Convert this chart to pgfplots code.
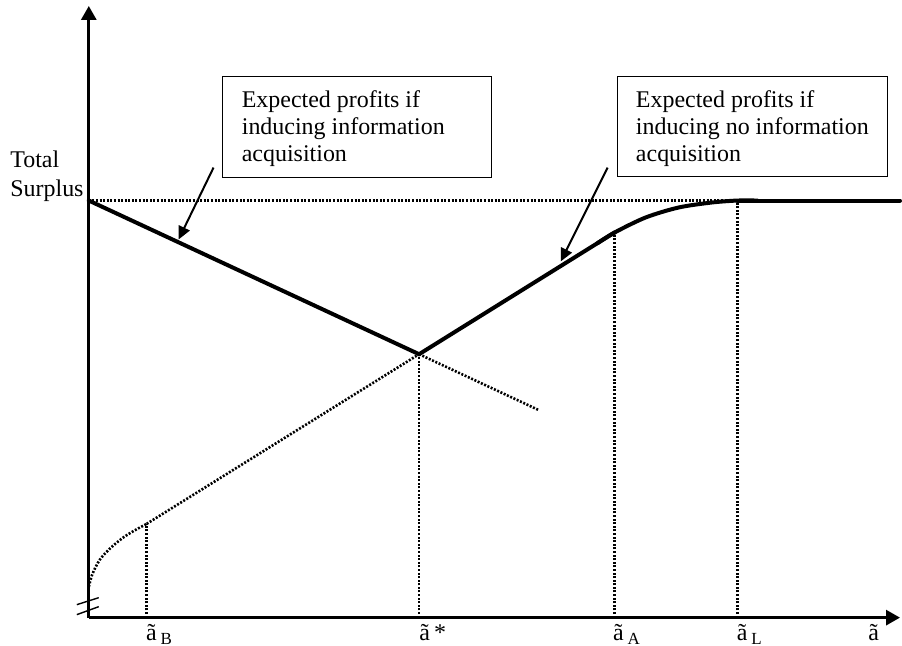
\documentclass[border=0pt]{standalone}
\usepackage{fontspec}
\setmainfont{Liberation Serif}
\usepackage{pgfplots}
\pgfplotsset{compat=1.18}
\usetikzlibrary{arrows.meta}
\newcommand\sub[1]{\,\raisebox{-2pt}{\fontsize{8.5}{9}\selectfont #1}}
\begin{document}
\begin{tikzpicture}[font=\fontsize{12}{13.5}\selectfont]
\begin{axis}[
  scale only axis, width=406.5pt, height=306.5pt,
  xmin=0, xmax=813, ymin=0, ymax=613,
  axis lines=left,
  axis line style={line width=1.5pt, -{Triangle[length=7pt,width=7.5pt]}},
  ytick=\empty,
  xtick={59,333,527,651,783},
  xticklabels={ã\sub{B}, ã\,*, ã\sub{A}, ã\sub{L}, ã},
  major tick length=0pt,
  xticklabel style={anchor=north west, inner sep=0pt, yshift=-3pt, xshift=-1pt, font=\fontsize{12}{13.5}\selectfont},
  clip=false,
  dotted line/.style={line width=1.3pt, dash pattern=on 1pt off 0.8pt, black},
  thick line/.style={line width=2pt, black, line cap=round, line join=round},
]
% dotted guide lines
\addplot[dotted line] coordinates {(0,418) (650,418)};
\addplot[dotted line] coordinates {(58,0) (58,94)};
\addplot[dotted line] coordinates {(331,0) (331,264)};
\addplot[dotted line] coordinates {(527,0) (527,386)};
\addplot[dotted line] coordinates {(650,0) (650,418)};
% dotted lower curve
\addplot[dotted line, smooth] coordinates {(0,31) (3,42) (7,51) (11,58) (16,64) (22,70) (29,76) (37,82) (47,88) (58,94)};
\addplot[dotted line] coordinates {(58,94) (331,264)};
% dotted continuation of the decreasing line
\addplot[dotted line] coordinates {(331,264) (451,208)};
% thick: information acquisition
\addplot[thick line] coordinates {(0,418) (331,264)};
% thick: no information acquisition
\addplot[thick line] coordinates {(331,264) (527,386)};
\addplot[thick line, smooth] coordinates {(510,375.4) (527,386) (558,401) (591,411) (624,416) (650,418) (670,418)};
\addplot[thick line] coordinates {(650,418) (813,418)};
% axis break marks
\draw[line width=0.7pt] (axis cs:-12,13) -- (axis cs:10,20);
\draw[line width=0.7pt] (axis cs:-12,3) -- (axis cs:10,11);
% labels
\node[anchor=base west, align=left, inner sep=0pt] at (axis cs:-79,422) {Total\\[1pt]Surplus};
\draw[line width=0.5pt] (axis cs:134,542) rectangle (axis cs:404,441);
\node[anchor=base west, align=left, inner sep=0pt] at (axis cs:153,457) {Expected profits if\\inducing information\\acquisition};
\draw[line width=0.5pt] (axis cs:530,542) rectangle (axis cs:800,442);
\node[anchor=base west, align=left, inner sep=0pt] at (axis cs:548,457) {Expected profits if\\inducing no information\\acquisition};
% arrows
\draw[line width=1pt, -{Triangle[length=6.5pt,width=6pt]}] (axis cs:125,451) -- (axis cs:90,379);
\draw[line width=1pt, -{Triangle[length=6.5pt,width=6pt]}] (axis cs:520,451) -- (axis cs:473,357);
\path (axis cs:-89,-28) rectangle (axis cs:813,619);
\end{axis}
\end{tikzpicture}
\end{document}
